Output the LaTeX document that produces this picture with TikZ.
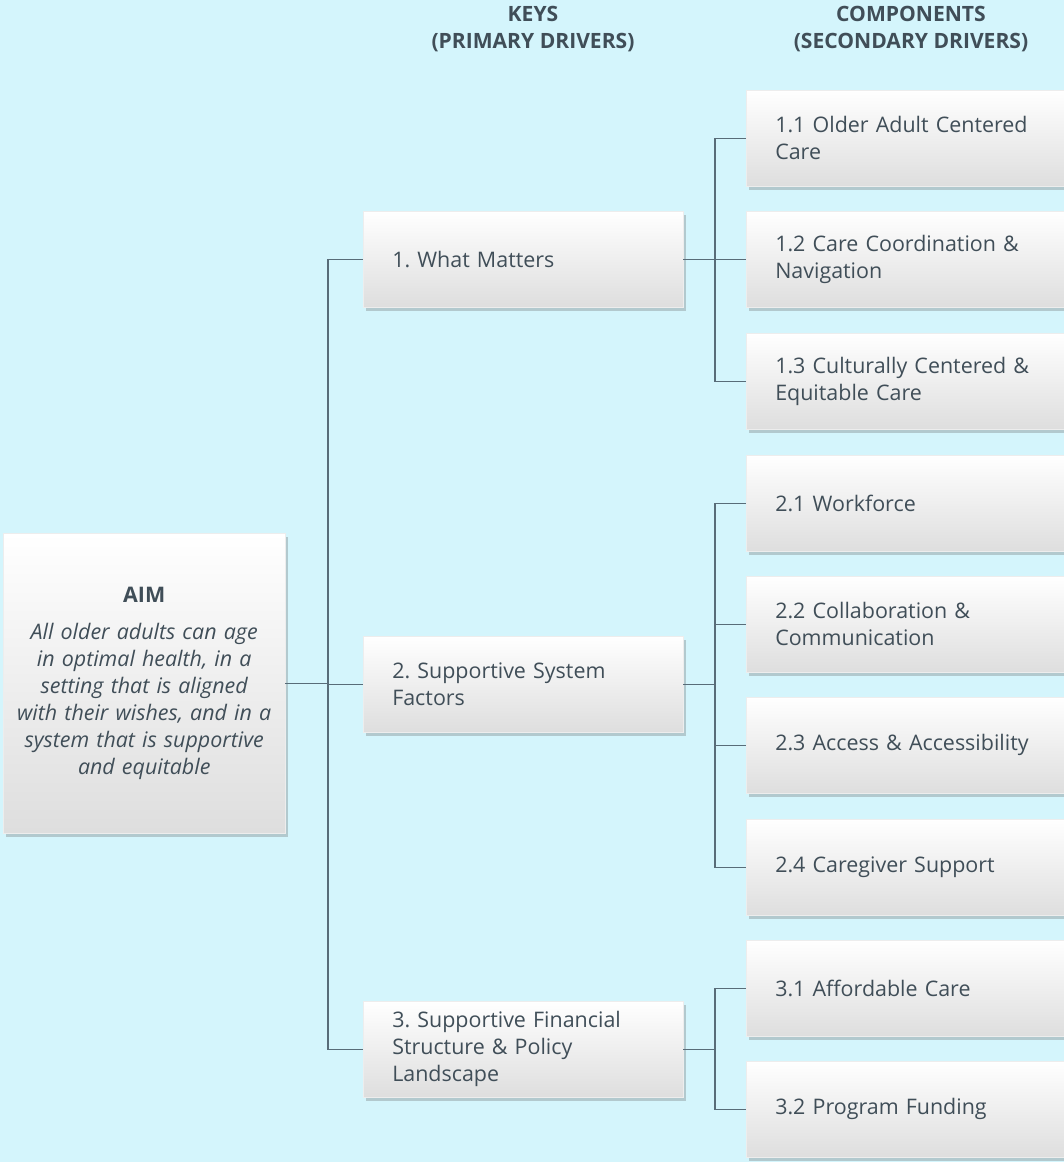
\documentclass[tikz,border=0pt]{standalone}
\usepackage{fontspec}
\setmainfont{Open Sans}
\frenchspacing
\usetikzlibrary{shadows}

\definecolor{bgcyan}{RGB}{212,245,252}
\definecolor{txtgray}{RGB}{64,78,88}
\definecolor{linegray}{RGB}{88,108,120}

\tikzset{
  card/.style={rectangle, anchor=north west, inner ysep=0pt, inner xsep=0.58cm,
    top color=white, middle color=white, bottom color=black!13,
    draw=black!7, line width=0.3pt,
    drop shadow={shadow xshift=0.5mm, shadow yshift=-0.8mm, opacity=0.3, fill=black!60},
    text=txtgray, align=left, font=\fontsize{12.2}{15.3}\selectfont},
  keycard/.style={card, text width=5.24cm, minimum height=1.92cm},
  compcard/.style={card, text width=5.6cm, minimum height=1.92cm},
  head/.style={text=txtgray, align=center, font=\bfseries\fontsize{12}{15.8}\selectfont},
  link/.style={draw=linegray, line width=0.8pt},
}

\begin{document}
\begin{tikzpicture}[x=0.02cm, y=-0.02cm]
  \fill[bgcyan] (0,0) rectangle (1064,1162);
  \useasboundingbox (0,0) rectangle (1064,1162);

  % column titles
  \node[head] (hkeys) at (533,29) {KEYS\\(PRIMARY DRIVERS)};
  \node[head] (hcomp) at (911,29) {COMPONENTS\\(SECONDARY DRIVERS)};

  % aim
  \node[card, align=center, inner xsep=0.1cm, text width=5.44cm, minimum height=6cm] (aim) at (3,533)
    {\textbf{AIM}\\[0.2cm]
     \itshape All older adults can age\\ in optimal health, in a\\ setting that is aligned\\
     with their wishes, and in a\\ system that is supportive\\ and equitable};

  % keys
  \node[keycard] (k1) at (363,211) {1. What Matters};
  \node[keycard] (k2) at (363,636) {2. Supportive System\\Factors};
  \node[keycard] (k3) at (363,1001) {3. Supportive Financial\\Structure \& Policy\\Landscape};

  % components
  \foreach \name/\y/\txt in {c11/90/{1.1 Older Adult Centered\\Care},
      c12/211/{1.2 Care Coordination \&\\Navigation},
      c13/333/{1.3 Culturally Centered \&\\Equitable Care},
      c21/455/{2.1 Workforce},
      c22/576/{2.2 Collaboration \&\\Communication},
      c23/697/{2.3 Access \& Accessibility},
      c24/819/{2.4 Caregiver Support},
      c31/940/{3.1 Affordable Care},
      c32/1061/{3.2 Program Funding}}{
    \node[compcard] (\name) at (746,\y) {\txt};
  }

  % links
  \coordinate (t0) at (328,0);
  \coordinate (t1) at (715,0);
  \draw[link] (aim.east) -- (aim.east -| t0);
  \foreach \k in {k1,k2,k3}
    \draw[link] (aim.east -| t0) |- (\k.west);

  \foreach \k/\list in {k1/{c11,c12,c13}, k2/{c21,c22,c23,c24}, k3/{c31,c32}}{
    \draw[link] (\k.east) -- (\k.east -| t1);
    \foreach \c in \list
      \draw[link] (\k.east -| t1) |- (\c.west);
  }
\end{tikzpicture}
\end{document}
